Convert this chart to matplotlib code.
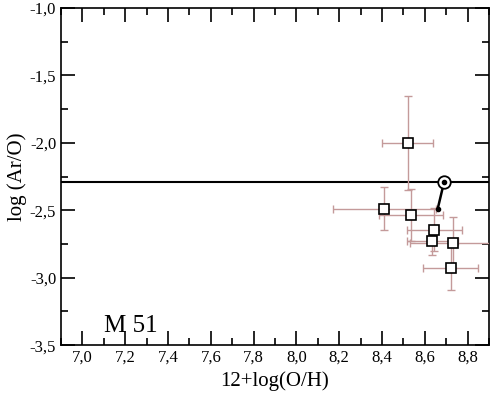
import numpy as np
import matplotlib.pyplot as plt
from matplotlib.ticker import MultipleLocator, FuncFormatter

plt.rcParams['font.family'] = ['Liberation Serif', 'DejaVu Serif']

# 12+log(O/H) and log(Ar/O) for the M 51 HII regions
oh = [8.52, 8.41, 8.535, 8.645, 8.635, 8.73, 8.72]
aro = [-2.00, -2.49, -2.535, -2.645, -2.73, -2.74, -2.93]
oh_err = [0.12, 0.24, 0.15, 0.13, 0.12, 0.20, 0.13]
aro_err = [0.35, 0.16, 0.19, 0.16, 0.10, 0.19, 0.16]

# solar value and the point it is linked to
sun_oh, sun_aro = 8.69, -2.29
link_oh, link_aro = 8.66, -2.49

fig = plt.figure(figsize=(4.92, 3.94), dpi=100)
ax = fig.add_axes([0.124, 0.124, 0.870, 0.856])

ax.axhline(sun_aro, color='black', lw=1.5, zorder=2)
ax.errorbar(oh, aro, xerr=oh_err, yerr=aro_err, fmt='none',
            ecolor='#c49a9a', elinewidth=1.0, capsize=3, capthick=1.0, zorder=3)
ax.plot(oh, aro, 's', ms=7.5, mfc='white', mec='black', mew=1.2, zorder=4)
ax.plot([sun_oh, link_oh], [sun_aro, link_aro], color='black', lw=1.8, zorder=4)
ax.plot(link_oh, link_aro, 'o', ms=3, color='black', zorder=5)
ax.plot(sun_oh, sun_aro, 'o', ms=9, mfc='white', mec='black', mew=1.3, zorder=5)
ax.plot(sun_oh, sun_aro, 'o', ms=3, color='black', zorder=6)

ax.text(7.1, -3.4, 'M 51', fontsize=18)

ax.set_xlim(6.9, 8.9)
ax.set_ylim(-3.5, -1.0)
ax.xaxis.set_major_locator(MultipleLocator(0.2))
ax.xaxis.set_minor_locator(MultipleLocator(0.1))
ax.yaxis.set_major_locator(MultipleLocator(0.5))
ax.yaxis.set_minor_locator(MultipleLocator(0.25))
ax.xaxis.set_major_formatter(FuncFormatter(lambda v, p: ('%.1f' % v).replace('.', ',')))
ax.yaxis.set_major_formatter(FuncFormatter(lambda v, p: ('%.1f' % v).replace('.', ',')))
ax.tick_params(which='both', direction='in', top=True, right=True, labelsize=12, width=1.2)
ax.tick_params(which='major', length=10)
ax.tick_params(which='minor', length=5)
for s in ax.spines.values():
    s.set_linewidth(1.2)

ax.set_xlabel('12+log(O/H)', fontsize=15, labelpad=4)
ax.set_ylabel('log (Ar/O)', fontsize=15)
ax.yaxis.set_label_coords(-0.08, 0.5)

plt.savefig('out.png', dpi=100)
